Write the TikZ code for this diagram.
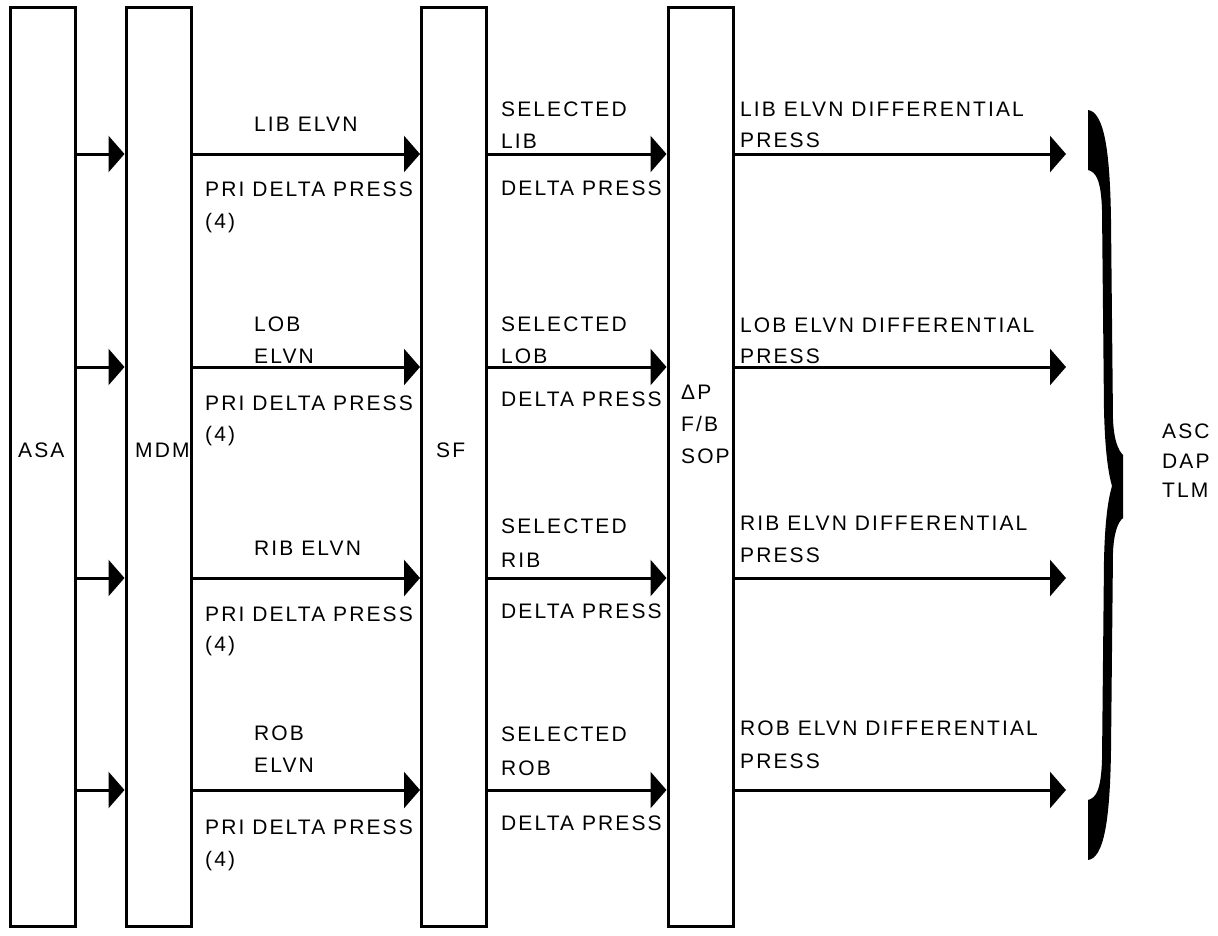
\documentclass[tikz,border=0pt]{standalone}
\usepackage{fontspec}
\setmainfont{Liberation Sans}[LetterSpace=10]
\usetikzlibrary{arrows.meta}

\def \lineW {3pt}
\def \boxH {919pt}

\tikzset{
  blk/.style={draw, line width=\lineW, minimum width=65pt, minimum height=\boxH, inner sep=0pt},
  sig/.style={line width=\lineW, -{Triangle[length=16pt,width=36pt]}},
  lbl/.style={anchor=base west, inner sep=0pt, font=\fontsize{21}{25}\selectfont},
}

\begin{document}
\begin{tikzpicture}[x=1pt, y=-1pt]
  \useasboundingbox (0,0) rectangle (1218,935);

  % blocks
  \node[blk] (asa) at (43,467) {};
  \node[blk] (mdm) at (158.5,467) {};
  \node[blk] (sf) at (454,467) {};
  \node[blk] (sop) at (700.5,467) {};

  \node[lbl] (asa-t) at (18,457) {ASA};
  \node[lbl] (mdm-t) at (135,457) {MDM};
  \node[lbl] (sf-t) at (436,457) {SF};
  \node[lbl] (sop-t1) at (681,399) {ΔP};
  \node[lbl] (sop-t2) at (681,431) {F/B};
  \node[lbl] (sop-t3) at (681,463) {SOP};

  % signal rows
  \foreach \i/\y in {1/154, 2/367, 3/578, 4/790} {
    \coordinate (r\i) at (0,\y);
    \coordinate (out\i) at (1066,\y);
    \draw[sig] (asa.east |- r\i) -- (mdm.west |- r\i);
    \draw[sig] (mdm.east |- r\i) -- (sf.west |- r\i);
    \draw[sig] (sf.east |- r\i) -- (sop.west |- r\i);
    \draw[sig] (sop.east |- r\i) -- (out\i);
  }

  % row 1
  \node[lbl] (a1) at (254,131) {LIB ELVN};
  \node[lbl] (b1) at (205,196) {PRI DELTA PRESS};
  \node[lbl] (c1) at (205,228) {(4)};
  \node[lbl] (d1) at (501,116) {SELECTED};
  \node[lbl] (e1) at (501,148) {LIB};
  \node[lbl] (f1) at (501,195) {DELTA PRESS};
  \node[lbl] (g1) at (740,116) {LIB ELVN DIFFERENTIAL};
  \node[lbl] (h1) at (740,147) {PRESS};

  % row 2
  \node[lbl] (a2) at (254,331) {LOB};
  \node[lbl] (a2b) at (254,363) {ELVN};
  \node[lbl] (b2) at (205,410) {PRI DELTA PRESS};
  \node[lbl] (c2) at (205,441) {(4)};
  \node[lbl] (d2) at (501,331) {SELECTED};
  \node[lbl] (e2) at (501,363) {LOB};
  \node[lbl] (f2) at (501,406) {DELTA PRESS};
  \node[lbl] (g2) at (740,332) {LOB ELVN DIFFERENTIAL};
  \node[lbl] (h2) at (740,363) {PRESS};

  % row 3
  \node[lbl] (a3) at (254,555) {RIB ELVN};
  \node[lbl] (b3) at (205,621) {PRI DELTA PRESS};
  \node[lbl] (c3) at (205,651) {(4)};
  \node[lbl] (d3) at (501,533) {SELECTED};
  \node[lbl] (e3) at (501,567) {RIB};
  \node[lbl] (f3) at (501,618) {DELTA PRESS};
  \node[lbl] (g3) at (740,530) {RIB ELVN DIFFERENTIAL};
  \node[lbl] (h3) at (740,562) {PRESS};

  % row 4
  \node[lbl] (a4) at (254,740) {ROB};
  \node[lbl] (a4b) at (254,772) {ELVN};
  \node[lbl] (b4) at (205,834) {PRI DELTA PRESS};
  \node[lbl] (c4) at (205,866) {(4)};
  \node[lbl] (d4) at (501,741) {SELECTED};
  \node[lbl] (e4) at (501,775) {ROB};
  \node[lbl] (f4) at (501,830) {DELTA PRESS};
  \node[lbl] (g4) at (740,735) {ROB ELVN DIFFERENTIAL};
  \node[lbl] (h4) at (740,768) {PRESS};

  % brace
  \fill (1088,110) .. controls (1104,112) and (1110,150) .. (1111,220) -- (1113,420)
    .. controls (1114,440) and (1118,450) .. (1123,455) -- (1123,518)
    .. controls (1118,522) and (1114,532) .. (1113,552) -- (1111,750)
    .. controls (1110,820) and (1104,858) .. (1088,860) -- (1088,800)
    .. controls (1096,798) and (1101,790) .. (1102,760) -- (1104,560)
    .. controls (1105,520) and (1108,500) .. (1112,486)
    .. controls (1108,472) and (1105,450) .. (1104,410) -- (1102,210)
    .. controls (1101,180) and (1096,172) .. (1088,170) -- cycle;

  \node[lbl] (t1) at (1162,438) {ASC};
  \node[lbl] (t2) at (1162,468) {DAP};
  \node[lbl] (t3) at (1162,497) {TLM};
\end{tikzpicture}
\end{document}
